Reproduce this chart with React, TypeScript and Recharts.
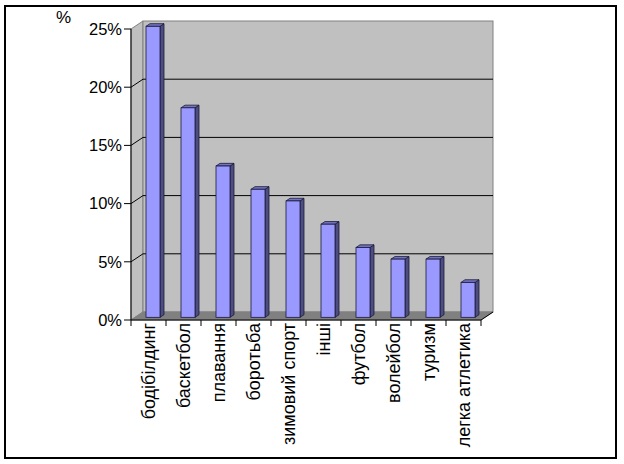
import { BarChart, Bar, XAxis, YAxis, CartesianGrid } from "recharts"

const sports = [
  "бодібілдинг",
  "баскетбол",
  "плавання",
  "боротьба",
  "зимовий спорт",
  "інші",
  "футбол",
  "волейбол",
  "туризм",
  "легка атлетика",
]
const shares = [25, 18, 13, 11, 10, 8, 6, 5, 5, 3]
const percentTicks = [0, 5, 10, 15, 20, 25]

const data = sports.map((name, i) => ({ name, value: shares[i] }))

// layout of the plot (front plane) and the 3d depth
const W = 624
const H = 464
const PLOT_LEFT = 131
const PLOT_TOP = 29
const PLOT_RIGHT = 481
const PLOT_BOTTOM = 320
const DX = 12
const DY = -8
const BAND = (PLOT_RIGHT - PLOT_LEFT) / sports.length
const FONT = "'Liberation Sans', Arial, sans-serif"

const WALL = "#c0c0c0"
const FLOOR = "#808080"
const EDGE = "#808080"

function GridLine(p: any) {
  const { x1, x2, y1, index } = p
  const isTop = Math.abs(y1 - PLOT_TOP) < 1
  const isBottom = Math.abs(y1 - PLOT_BOTTOM) < 1
  const L = x1
  const R = x2
  return (
    <g>
      {index === 0 && (
        <g>
          <polygon
            points={`${L},${PLOT_BOTTOM} ${L},${PLOT_TOP} ${L + DX},${PLOT_TOP + DY} ${L + DX},${PLOT_BOTTOM + DY}`}
            fill={WALL}
            stroke={EDGE}
          />
          <rect
            x={L + DX}
            y={PLOT_TOP + DY}
            width={R - L}
            height={PLOT_BOTTOM - PLOT_TOP}
            fill={WALL}
            stroke={EDGE}
          />
          <polygon
            points={`${L},${PLOT_BOTTOM} ${R},${PLOT_BOTTOM} ${R + DX},${PLOT_BOTTOM + DY} ${L + DX},${PLOT_BOTTOM + DY}`}
            fill={FLOOR}
            stroke={FLOOR}
          />
          <line x1={R} y1={PLOT_BOTTOM} x2={R + DX} y2={PLOT_BOTTOM + DY} stroke="#000" />
        </g>
      )}
      {!isTop && !isBottom && (
        <g>
          <line x1={L} y1={y1} x2={L + DX} y2={y1 + DY} stroke="#000" />
          <line x1={L + DX} y1={y1 + DY} x2={R + DX} y2={y1 + DY} stroke="#000" />
        </g>
      )}
    </g>
  )
}

function Bar3D(props: any) {
  const { x, y, width, height } = props
  if (height <= 0) return null
  const bx = DX / 3
  const by = DY / 3
  const fx = x + bx
  const fy = y + by
  const fb = y + height + by
  const outline = "#1a1a3a"
  return (
    <g>
      <polygon
        points={`${fx + width},${fy} ${fx + width + bx},${fy + by} ${fx + width + bx},${fb + by} ${fx + width},${fb}`}
        fill="#4d4d80"
        stroke={outline}
        strokeWidth={0.8}
      />
      <polygon
        points={`${fx},${fy} ${fx + width},${fy} ${fx + width + bx},${fy + by} ${fx + bx},${fy + by}`}
        fill="#7373bf"
        stroke={outline}
        strokeWidth={0.8}
      />
      <rect x={fx} y={fy} width={width} height={fb - fy} fill="#9999ff" stroke={outline} strokeWidth={0.8} />
    </g>
  )
}

function CategoryTick(props: any) {
  const { x, payload, index } = props
  const last = index === sports.length - 1
  return (
    <g>
      <line x1={x - BAND / 2} y1={PLOT_BOTTOM} x2={x - BAND / 2} y2={PLOT_BOTTOM + 6} stroke="#000" />
      {last && <line x1={x + BAND / 2} y1={PLOT_BOTTOM} x2={x + BAND / 2} y2={PLOT_BOTTOM + 6} stroke="#000" />}
      <text
        transform={`translate(${x},${PLOT_BOTTOM + 3}) rotate(-90)`}
        textAnchor="end"
        dominantBaseline="central"
        fontFamily={FONT}
        fontSize={18}
        fill="#000"
      >
        {payload.value}
      </text>
    </g>
  )
}

export default function App() {
  return (
    <div style={{ position: "absolute", left: 0, top: 0, width: W, height: H, background: "#fff" }}>
      <div
        style={{
          position: "absolute",
          left: 4,
          top: 5,
          width: 613,
          height: 454,
          boxSizing: "border-box",
          border: "2px solid #000",
        }}
      />
      <div
        style={{
          position: "absolute",
          left: 56,
          top: 9,
          fontFamily: FONT,
          fontSize: 17,
          lineHeight: "18px",
        }}
      >
        %
      </div>
      <div style={{ position: "absolute", left: 0, top: 0 }}>
        <BarChart
          width={W}
          height={H}
          data={data}
          margin={{ top: PLOT_TOP, left: PLOT_LEFT - 60, right: W - PLOT_RIGHT, bottom: H - PLOT_BOTTOM - 120 }}
        >
          <CartesianGrid vertical={false} horizontal={(p: any) => <GridLine key={p.key} {...p} />} />
          <XAxis
            dataKey="name"
            interval={0}
            height={120}
            axisLine={{ stroke: "#000" }}
            tickLine={false}
            tick={(p: any) => <CategoryTick {...p} />}
          />
          <YAxis
            width={60}
            domain={[0, 25]}
            ticks={percentTicks}
            tickFormatter={(v: number) => `${v}%`}
            axisLine={{ stroke: "#000" }}
            tickLine={{ stroke: "#000" }}
            tickSize={7}
            tickMargin={2}
            tick={{ fill: "#000", fontSize: 16.5, fontFamily: FONT }}
          />
          <Bar dataKey="value" barSize={14} shape={(p: any) => <Bar3D {...p} />} isAnimationActive={false} />
        </BarChart>
      </div>
    </div>
  )
}
